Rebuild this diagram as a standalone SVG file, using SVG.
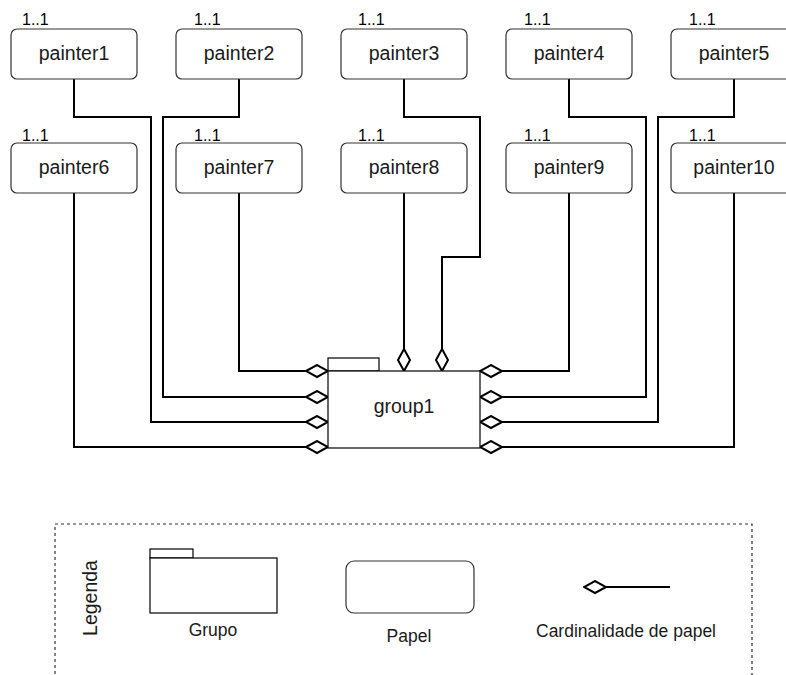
<svg xmlns="http://www.w3.org/2000/svg" width="786" height="675" viewBox="0 0 786 675">
<defs>
<style>
.box{fill:#fff;stroke:#333;stroke-width:1.2}
.grp{fill:#fff;stroke:#000;stroke-width:1.2}
.t{font-family:"Liberation Sans",Arial,sans-serif;font-size:19.5px;fill:#1a1a1a;text-anchor:middle}
.c{font-family:"Liberation Sans",Arial,sans-serif;font-size:16px;fill:#000}
.lg{font-family:"Liberation Sans",Arial,sans-serif;font-size:17.5px;fill:#1a1a1a;text-anchor:middle}
.conn{fill:none;stroke:#000;stroke-width:2;marker-end:url(#dia)}
</style>
<marker id="dia" viewBox="0 0 24 15" refX="23" refY="7.5" markerWidth="24" markerHeight="15" markerUnits="userSpaceOnUse" orient="auto">
<path d="M1,7.5 L12,1.5 L23,7.5 L12,13.5 Z" fill="#fff" stroke="#000" stroke-width="2"/>
</marker>
</defs>
<rect width="786" height="675" fill="#fff"/>
<g id="connectors">
<path class="conn" d="M74,79 V117 H151 V422 H328"/>
<path class="conn" d="M239,79 V117 H163 V397 H328"/>
<path class="conn" d="M404,79 V117 H480 V257 H442 V371"/>
<path class="conn" d="M569,79 V117 H646 V397 H480"/>
<path class="conn" d="M734,79 V117 H658 V422 H480"/>
<path class="conn" d="M74,193 V447 H328"/>
<path class="conn" d="M239,193 V371 H328"/>
<path class="conn" d="M404,193 V371"/>
<path class="conn" d="M569,193 V371 H480"/>
<path class="conn" d="M734,193 V447 H480"/>
</g>
<g id="painter1"><rect class="box" x="11" y="29" width="126" height="50" rx="6"/><text class="t" x="74" y="60">painter1</text><text class="c" x="22" y="25">1..1</text></g>
<g id="painter2"><rect class="box" x="176" y="29" width="126" height="50" rx="6"/><text class="t" x="239" y="60">painter2</text><text class="c" x="194" y="25">1..1</text></g>
<g id="painter3"><rect class="box" x="341" y="29" width="126" height="50" rx="6"/><text class="t" x="404" y="60">painter3</text><text class="c" x="358" y="25">1..1</text></g>
<g id="painter4"><rect class="box" x="506" y="29" width="126" height="50" rx="6"/><text class="t" x="569" y="60">painter4</text><text class="c" x="524" y="25">1..1</text></g>
<g id="painter5"><rect class="box" x="671" y="29" width="126" height="50" rx="6"/><text class="t" x="734" y="60">painter5</text><text class="c" x="689" y="25">1..1</text></g>
<g id="painter6"><rect class="box" x="11" y="143" width="126" height="50" rx="6"/><text class="t" x="74" y="174">painter6</text><text class="c" x="22" y="141">1..1</text></g>
<g id="painter7"><rect class="box" x="176" y="143" width="126" height="50" rx="6"/><text class="t" x="239" y="174">painter7</text><text class="c" x="194" y="141">1..1</text></g>
<g id="painter8"><rect class="box" x="341" y="143" width="126" height="50" rx="6"/><text class="t" x="404" y="174">painter8</text><text class="c" x="358" y="141">1..1</text></g>
<g id="painter9"><rect class="box" x="506" y="143" width="126" height="50" rx="6"/><text class="t" x="569" y="174">painter9</text><text class="c" x="524" y="141">1..1</text></g>
<g id="painter10"><rect class="box" x="671" y="143" width="126" height="50" rx="6"/><text class="t" x="734" y="174">painter10</text><text class="c" x="689" y="141">1..1</text></g>
<g id="group1"><rect class="grp" x="328" y="358" width="51" height="13"/><rect class="grp" x="328" y="371" width="152" height="77"/><text class="t" x="404" y="413">group1</text></g>
<g id="legend">
<rect x="55" y="524" width="697" height="170" fill="none" stroke="#333" stroke-width="1.2" stroke-dasharray="3,3"/>
<text class="t" transform="translate(97,598) rotate(-90)">Legenda</text>
<rect class="grp" x="150" y="549" width="43" height="9"/>
<rect class="grp" x="150" y="558" width="127" height="55"/>
<text class="lg" x="213" y="636">Grupo</text>
<rect class="box" x="346" y="561" width="128" height="52" rx="8"/>
<text class="lg" x="409" y="642">Papel</text>
<path d="M670,587 H584" fill="none" stroke="#000" stroke-width="2" marker-end="url(#dia)"/>
<text class="lg" x="626" y="637">Cardinalidade de papel</text>
</g>
</svg>
